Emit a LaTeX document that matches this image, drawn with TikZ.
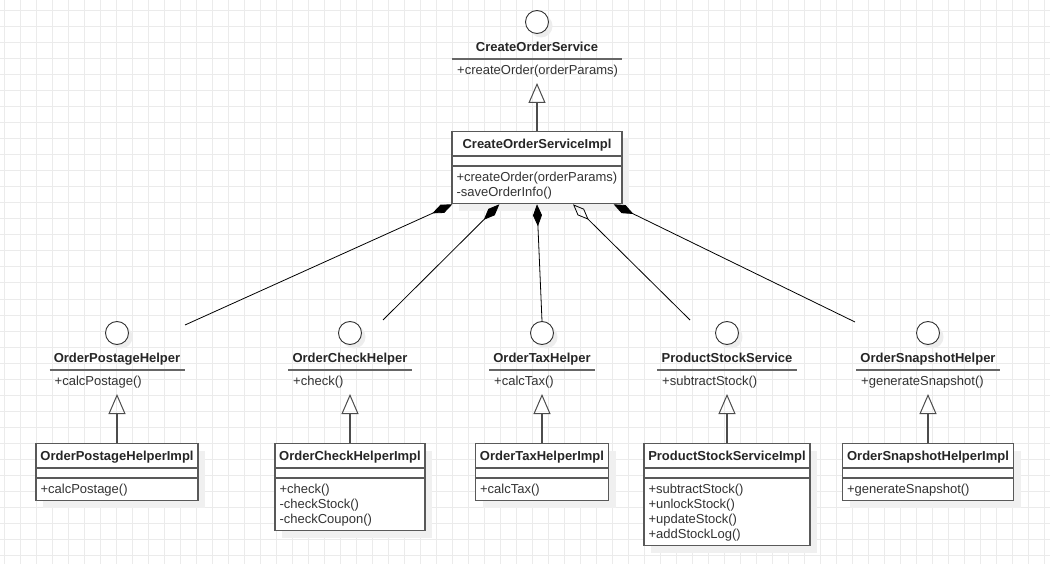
\documentclass[tikz,border=0pt]{standalone}
\usepackage{fontspec}
\setmainfont{Liberation Sans}
\usepackage{tikz}
\usetikzlibrary{arrows.meta, shadows}

\newcommand{\umlfont}{\fontsize{13}{15}\selectfont}

\begin{document}
\begin{tikzpicture}[x=1pt, y=-1pt,
    gridline/.style={draw=black!8, line width=1pt},
    lolli/.style={circle, draw=black!80, fill=white, line width=0.9pt, minimum size=23pt, inner sep=0,
        drop shadow={shadow xshift=4pt, shadow yshift=-4pt, fill=black!7, opacity=1}},
    implbox/.style={draw=black!65, fill=white, line width=1.3pt, inner sep=0, anchor=north,
        drop shadow={shadow xshift=7pt, shadow yshift=-7pt, fill=black!6, opacity=1}},
    sepline/.style={draw=black!65, line width=1.3pt},
    uline/.style={draw=black!60, line width=1.5pt},
    ttl/.style={font=\umlfont\bfseries, text=black!85, inner sep=0, anchor=base},
    mth/.style={font=\umlfont, text=black!80, align=left, inner sep=0, anchor=north west},
    realize/.style={draw=black!70, line width=1.3pt, -{Triangle[open, length=20pt, width=17pt, line width=1pt]}},
    comp/.style={draw=black, line width=0.8pt, {Diamond[length=22pt, width=9pt]}-},
    aggr/.style={draw=black, line width=0.8pt, {Diamond[open, length=22pt, width=9pt]}-}]
    % 1. Nền lưới
    \fill[white] (0,0) rectangle (1050,564);
    \useasboundingbox (0,0) rectangle (1050,564);
    \foreach \gx in {4,20,...,1044} {
        \draw[gridline] (\gx,0) -- (\gx,564);
    }
    \foreach \gy in {11,27,...,555} {
        \draw[gridline] (0,\gy) -- (1050,\gy);
    }

    % 2. Giao diện CreateOrderService và lớp cài đặt
    \node[lolli] (svc-c) at (537,22) {};
    \node[ttl] (svc-n) at (537,51.6) {CreateOrderService};
    \draw[uline] (452,59) -- (622,59);
    \node[mth] (svc-m) at (457,65.3) {+createOrder(orderParams)};
    \node[implbox, minimum width=170, minimum height=72] (main) at (537,131) {};
    \draw[sepline] ([yshift=-25pt]main.north west) -- ([yshift=-25pt]main.north east);
    \draw[sepline] ([yshift=-35pt]main.north west) -- ([yshift=-35pt]main.north east);
    \node[ttl] (main-n) at ([yshift=-17.6pt]main.north) {CreateOrderServiceImpl};
    \node[mth] (main-m) at ([xshift=5pt, yshift=-40.5pt]main.north west) {+createOrder(orderParams)\\-saveOrderInfo()};
    \coordinate (svc-tip) at (537,83);
    \draw[realize] (main.north) -- (svc-tip);

    % 3. Các giao diện phụ trợ và lớp cài đặt
    \foreach \id/\x/\iw/\bw/\n/\iname/\imeth/\bname/\bmeth in {
        postage/117/135/162/1/OrderPostageHelper/{+calcPostage()}/OrderPostageHelperImpl/{+calcPostage()},
        check/350/124/150/3/OrderCheckHelper/{+check()}/OrderCheckHelperImpl/{+check()\\-checkStock()\\-checkCoupon()},
        tax/542/106/133/1/OrderTaxHelper/{+calcTax()}/OrderTaxHelperImpl/{+calcTax()},
        stock/727/140/166/4/ProductStockService/{+subtractStock()}/ProductStockServiceImpl/{+subtractStock()\\+unlockStock()\\+updateStock()\\+addStockLog()},
        snap/928/144/171/1/OrderSnapshotHelper/{+generateSnapshot()}/OrderSnapshotHelperImpl/{+generateSnapshot()}} {
        \node[lolli] (\id-c) at (\x,333) {};
        \node[ttl] (\id-n) at (\x,362.6) {\iname};
        \draw[uline] ({\x-\iw/2},370) -- ({\x+\iw/2},370);
        \node[mth] (\id-m) at ({\x-\iw/2+5},376.3) {\imeth};
        \node[implbox, minimum width=\bw, minimum height={42+15*\n}] (\id-b) at (\x,443) {};
        \draw[sepline] ([yshift=-25pt]\id-b.north west) -- ([yshift=-25pt]\id-b.north east);
        \draw[sepline] ([yshift=-35pt]\id-b.north west) -- ([yshift=-35pt]\id-b.north east);
        \node[ttl] (\id-bn) at ([yshift=-17.6pt]\id-b.north) {\bname};
        \node[mth] (\id-bm) at ([xshift=5pt, yshift=-40.5pt]\id-b.north west) {\bmeth};
        \coordinate (\id-tip) at (\x,394);
        \draw[realize] (\id-b.north) -- (\id-tip);
    }

    % 4. Quan hệ hợp thành / kết tập
    \coordinate (postage-end) at (185,325);
    \coordinate (check-end) at (383,320);
    \coordinate (stock-end) at (690,320);
    \coordinate (snap-end) at (855,322);
    \draw[comp] ([xshift=1pt]main.south west) -- (postage-end);
    \draw[comp] ([xshift=48pt]main.south west) -- (check-end);
    \draw[comp] (main.south) -- (tax-c.north);
    \draw[aggr] ([xshift=36pt]main.south) -- (stock-end);
    \draw[comp] ([xshift=-9pt]main.south east) -- (snap-end);
\end{tikzpicture}
\end{document}
